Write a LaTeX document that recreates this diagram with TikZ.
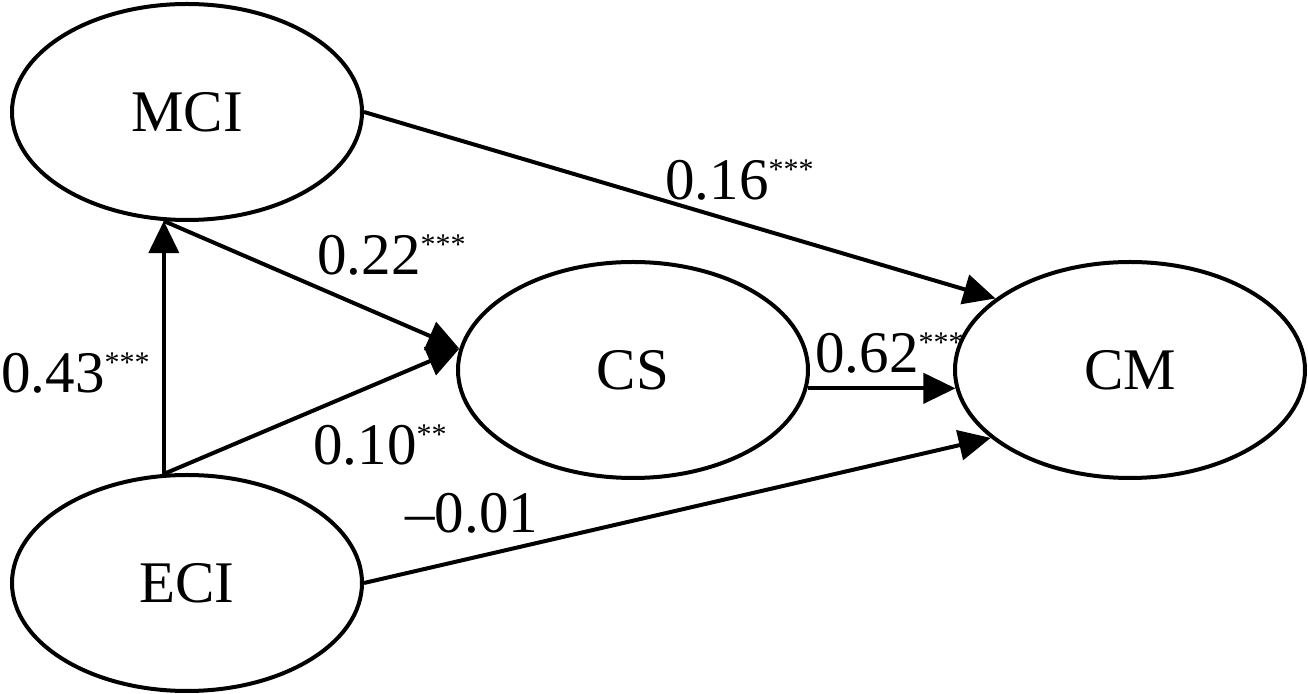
\documentclass[tikz,border=0pt]{standalone}
\usepackage{fontspec}
\setmainfont{Liberation Serif}
\usetikzlibrary{shapes.geometric,arrows.meta}
\newcommand\sigstars[1]{\raisebox{10pt}{\fontsize{15}{15}\selectfont #1}}
\begin{document}
\begin{tikzpicture}[x=0.5pt,y=-0.5pt,
  latent/.style={draw, ellipse, line width=2pt, inner sep=0pt,
    minimum width=175pt, minimum height=108pt,
    font=\fontsize{29.5}{32}\selectfont},
  pathline/.style={draw, line width=2pt, -{Triangle[length=16pt,width=15pt]}},
  coef/.style={anchor=base west, inner sep=0pt, font=\fontsize{29.5}{32}\selectfont}]
\useasboundingbox (0,0) rectangle (1308,694);
\node[latent] (MCI) at (187,112) {MCI};
\node[latent] (ECI) at (187,583) {ECI};
\node[latent] (CS) at (633,370) {CS};
\node[latent] (CM) at (1130,370) {CM};
\draw[pathline] (ECI.102.6) -- (MCI.-102.6);
\draw[pathline] (MCI.-102.6) -- (CS.173);
\draw[pathline] (ECI.102.6) -- (CS.173);
\draw[pathline] (MCI.east) -- (CM.152);
\draw[pathline] (CS.-6.6) -- (CM.186.7);
\draw[pathline] (ECI.east) -- (CM.206.4);
\node[coef] (c16) at (665,200) {0.16\sigstars{***}};
\node[coef] (c22) at (317,275) {0.22\sigstars{***}};
\node[coef] (c43) at (1,393) {0.43\sigstars{***}};
\node[coef] (c10) at (313,465) {0.10\sigstars{**}};
\node[coef] (c62) at (815,373) {0.62\sigstars{***}};
\node[coef] (c01) at (405,533) {–0.01};
\end{tikzpicture}
\end{document}
